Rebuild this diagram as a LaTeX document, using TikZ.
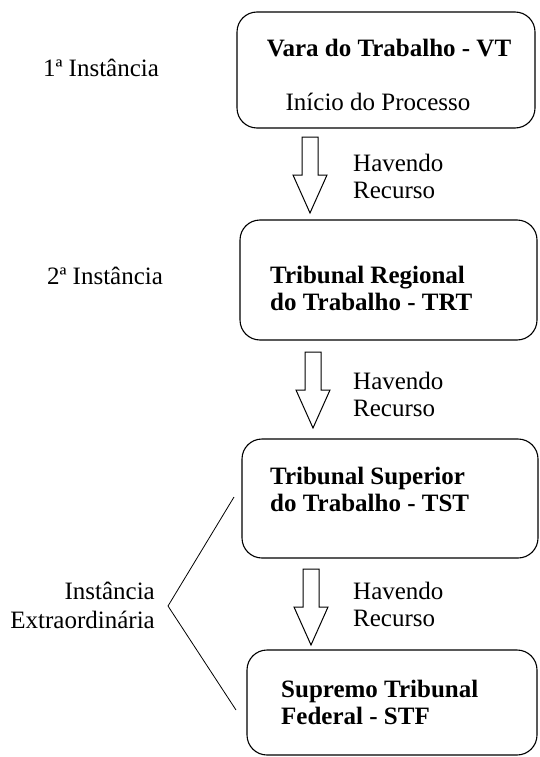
\documentclass[tikz,border=0pt]{standalone}
\usepackage{fontspec}
\setmainfont{Liberation Serif}
\begin{document}
\begin{tikzpicture}[x=1pt,y=-1pt,
  box/.style={draw, line width=1.1pt, rounded corners=20pt},
  txt/.style={inner sep=0pt, font=\fontsize{25}{27}\selectfont},
  btxt/.style={inner sep=0pt, font=\fontsize{25}{27}\selectfont\bfseries, align=left},
  side/.style={inner sep=0pt, font=\fontsize{25}{29}\selectfont},
  arr/.style={draw, line width=1pt, line join=miter},
  bracket/.style={draw, line width=0.8pt},
  downarrow/.pic={
    \path[arr] (-8,0) -- (8,0) -- (8,38) -- (17,38) -- (0,76) -- (-17,38) -- (-8,38) -- cycle;
  }]
\useasboundingbox (0,0) rectangle (539,757);
% boxes
\draw[box] (237,12) rectangle (535,128);
\node[inner sep=0pt, minimum width=298pt, minimum height=116pt] (b1) at (386,70) {};
\draw[box] (240,220) rectangle (537,340);
\node[inner sep=0pt, minimum width=297pt, minimum height=120pt] (b2) at (388.5,280) {};
\draw[box] (242,439) rectangle (538,558);
\node[inner sep=0pt, minimum width=296pt, minimum height=119pt] (b3) at (390,498.5) {};
\draw[box] (247,650) rectangle (537,755);
\node[inner sep=0pt, minimum width=290pt, minimum height=105pt] (b4) at (392,702.5) {};
% box texts
\node[btxt] (t1) at (389,48) {Vara do Trabalho - VT};
\node[txt] (t1b) at (378,102) {Início do Processo};
\node[btxt, anchor=west] (t2) at (270,288) {Tribunal Regional\\do Trabalho - TRT};
\node[btxt, anchor=west] (t3) at (270,489) {Tribunal Superior\\do Trabalho - TST};
\node[btxt, anchor=west] (t4) at (281,702) {Supremo Tribunal\\Federal - STF};
% arrows
\pic at (310,137) {downarrow};
\pic at (313,352) {downarrow};
\pic at (311,569) {downarrow};
\coordinate (a1) at (310,175);
\coordinate (a2) at (313,390);
\coordinate (a3) at (311,607);
\node[txt, anchor=west, align=left] (h1) at (353,176) {Havendo\\Recurso};
\node[txt, anchor=west, align=left] (h2) at (353,394) {Havendo\\Recurso};
\node[txt, anchor=west, align=left] (h3) at (353,604) {Havendo\\Recurso};
% side labels
\node[side] (s1) at (101,68) {1ª Instância};
\node[side] (s2) at (105,276) {2ª Instância};
\node[side, anchor=east, align=right] (s3) at (155,605) {Instância\\Extraordinária};
% bracket
\coordinate (bu) at (234,497);
\coordinate (ba) at (168,606);
\coordinate (bl) at (236,710);
\draw[bracket] (bu) -- (ba) -- (bl);
\end{tikzpicture}
\end{document}
